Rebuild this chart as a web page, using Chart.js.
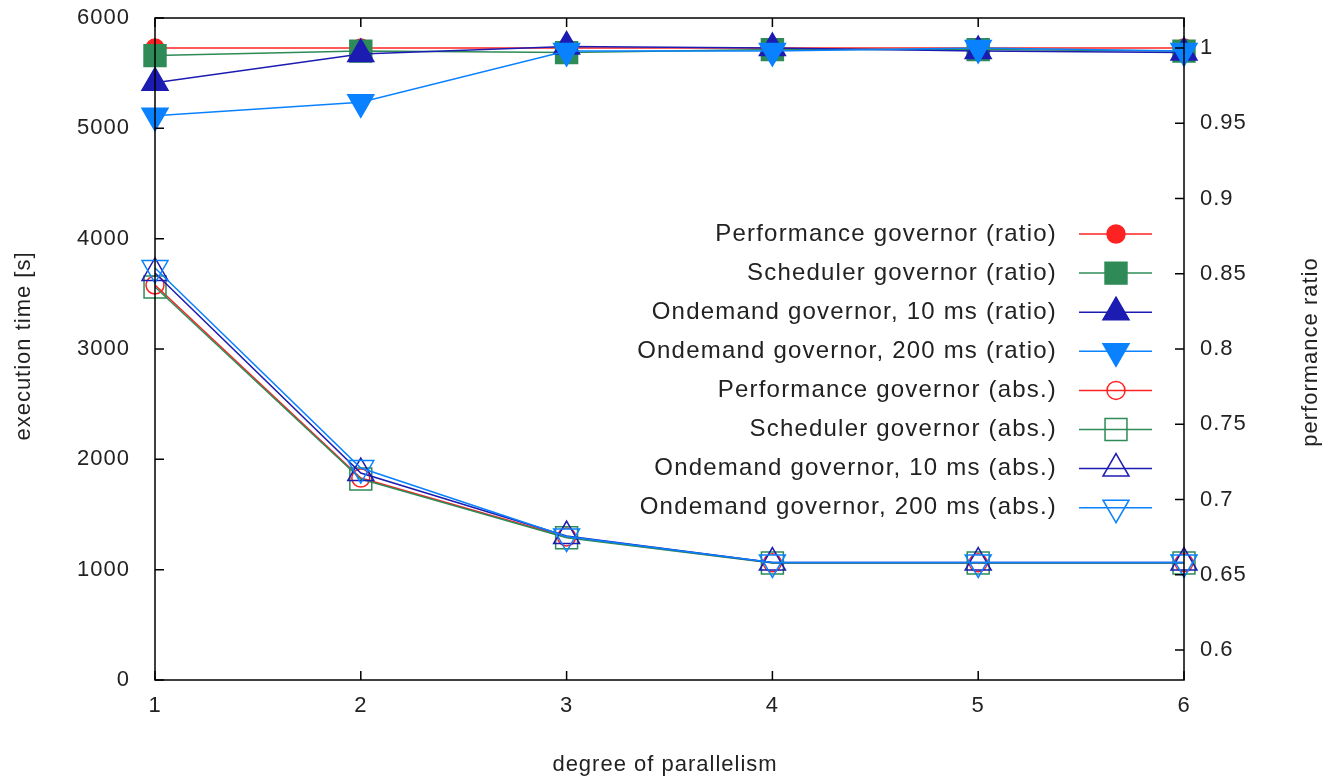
<!DOCTYPE html>
<html>
<head>
<meta charset="utf-8">
<script src="https://cdn.jsdelivr.net/npm/chart.js@4"></script>
<style>
  html, body { margin: 0; padding: 0; background: #fff; }
  canvas { display: block; }
</style>
</head>
<body>
<canvas id="chart" width="1325" height="779"></canvas>
<script>
// degree of parallelism on the x axis
const parallelism = ['1', '2', '3', '4', '5', '6'];

// performance ratio (right axis)
const perfRatio   = [1.000, 1.000, 1.000, 1.000, 1.000, 1.000];
const schedRatio  = [0.995, 0.998, 0.997, 0.999, 0.999, 0.998];
const od10Ratio   = [0.977, 0.996, 1.001, 1.000, 0.998, 0.997];
const od200Ratio  = [0.955, 0.964, 0.998, 0.998, 1.000, 0.998];

// execution time in seconds (left axis)
const perfAbs  = [3580, 1830, 1296, 1062, 1062, 1062];
const schedAbs = [3562, 1822, 1290, 1060, 1060, 1060];
const od10Abs  = [3689, 1876, 1305, 1064, 1064, 1064];
const od200Abs = [3734, 1921, 1300, 1066, 1066, 1066];

const leftTicks  = [0, 1000, 2000, 3000, 4000, 5000, 6000];
const rightTicks = [0.6, 0.65, 0.7, 0.75, 0.8, 0.85, 0.9, 0.95, 1];

const RED = '#ff2222', GREEN = '#2e8b57', DBLUE = '#1c1cb2', LBLUE = '#0a82ff';
const FONT = "'Liberation Sans', Arial, sans-serif";
const TEXT = '#222';

function series(label, data, color, style, filled, axis) {
  let radius = 9, rotation = 0;
  if (style === 'rect') radius = 15.5;
  if (style === 'triangle' || style === 'down') radius = 15;
  if (style === 'down') { style = 'triangle'; rotation = 180; }
  return {
    label, data, yAxisID: axis,
    borderColor: color, borderWidth: 1.5,
    pointStyle: style, pointRotation: rotation, pointRadius: radius,
    pointBorderWidth: 1.5, pointBorderColor: color,
    pointBackgroundColor: filled ? color : 'rgba(0,0,0,0)',
    backgroundColor: filled ? color : 'rgba(0,0,0,0)',
    tension: 0, fill: false
  };
}

const datasets = [
  series('Performance governor (ratio)', perfRatio, RED, 'circle', true, 'y2'),
  series('Scheduler governor (ratio)', schedRatio, GREEN, 'rect', true, 'y2'),
  series('Ondemand governor, 10 ms (ratio)', od10Ratio, DBLUE, 'triangle', true, 'y2'),
  series('Ondemand governor, 200 ms (ratio)', od200Ratio, LBLUE, 'down', true, 'y2'),
  series('Performance governor (abs.)', perfAbs, RED, 'circle', false, 'y'),
  series('Scheduler governor (abs.)', schedAbs, GREEN, 'rect', false, 'y'),
  series('Ondemand governor, 10 ms (abs.)', od10Abs, DBLUE, 'triangle', false, 'y'),
  series('Ondemand governor, 200 ms (abs.)', od200Abs, LBLUE, 'down', false, 'y')
];
datasets.forEach((d, i) => { d.order = datasets.length - i; });

// gnuplot style frame, inward ticks, titles and legend
const gnuplotLook = {
  id: 'gnuplotLook',
  beforeDraw(chart) {
    chart.ctx.letterSpacing = '1px';
  },
  afterDatasetsDraw(chart) {
    const ctx = chart.ctx;
    const a = chart.chartArea;
    const tl = 9;
    ctx.save();
    ctx.strokeStyle = '#000';
    ctx.lineWidth = 1.5;
    ctx.strokeRect(a.left, a.top, a.right - a.left, a.bottom - a.top);
    ctx.beginPath();
    const xs = chart.scales.x;
    xs.ticks.forEach((t, i) => {
      const px = xs.getPixelForTick(i);
      ctx.moveTo(px, a.bottom); ctx.lineTo(px, a.bottom - tl);
      ctx.moveTo(px, a.top); ctx.lineTo(px, a.top + tl);
    });
    const ys = chart.scales.y;
    ys.ticks.forEach(t => {
      const py = ys.getPixelForValue(t.value);
      ctx.moveTo(a.left, py); ctx.lineTo(a.left + tl, py);
    });
    const y2 = chart.scales.y2;
    y2.ticks.forEach(t => {
      const py = y2.getPixelForValue(t.value);
      ctx.moveTo(a.right, py); ctx.lineTo(a.right - tl, py);
    });
    ctx.stroke();
    ctx.restore();
  },
  afterDraw(chart) {
    const ctx = chart.ctx;
    ctx.save();
    ctx.letterSpacing = '1px';
    ctx.fillStyle = TEXT;
    ctx.textAlign = 'center';
    ctx.textBaseline = 'middle';
    ctx.font = '22px ' + FONT;
    ctx.fillText('degree of parallelism', 665, 765);

    ctx.save();
    ctx.translate(24, 346);
    ctx.rotate(-Math.PI / 2);
    ctx.fillText('execution time [s]', 0, 0);
    ctx.restore();

    ctx.save();
    ctx.translate(1311, 352);
    ctx.rotate(-Math.PI / 2);
    ctx.fillText('performance ratio', 0, 0);
    ctx.restore();

    // legend
    ctx.font = '24px ' + FONT;
    ctx.letterSpacing = '1.2px';
    ctx.textAlign = 'right';
    chart.data.datasets.forEach((d, i) => {
      const y = 234 + 39.1 * i;
      ctx.fillStyle = TEXT;
      ctx.fillText(d.label, 1057, y);
      ctx.strokeStyle = d.borderColor;
      ctx.lineWidth = 1.5;
      ctx.beginPath();
      ctx.moveTo(1079, y); ctx.lineTo(1152, y);
      ctx.stroke();
      ctx.fillStyle = d.pointBackgroundColor;
      Chart.helpers.drawPoint(ctx, {
        pointStyle: d.pointStyle, rotation: d.pointRotation,
        radius: d.pointRadius, borderWidth: 1.5
      }, 1116, y);
    });
    ctx.restore();
  }
};

function noVerticalPad(s) {
  s.paddingTop = 0;
  s.paddingBottom = 0;
}

new Chart(document.getElementById('chart'), {
  type: 'line',
  data: { labels: parallelism, datasets },
  plugins: [gnuplotLook],
  options: {
    responsive: false,
    devicePixelRatio: 1,
    animation: false,
    layout: { autoPadding: false, padding: { top: 18, left: 0, right: 0, bottom: 0 } },
    plugins: { legend: { display: false }, tooltip: { enabled: false } },
    elements: { line: { borderJoinStyle: 'miter' } },
    scales: {
      x: {
        type: 'category',
        offset: false,
        grid: { display: false, drawTicks: false },
        border: { display: false },
        ticks: { color: TEXT, font: { family: FONT, size: 22 }, padding: 13, maxRotation: 0 },
        afterFit(s) { s.height = 779 - 680; s.paddingLeft = 0; s.paddingRight = 0; }
      },
      y: {
        position: 'left',
        min: 0, max: 6000,
        grid: { display: false, drawTicks: false },
        border: { display: false },
        afterBuildTicks(s) { s.ticks = leftTicks.map(v => ({ value: v })); },
        ticks: {
          color: TEXT, font: { family: FONT, size: 22 }, padding: 25,
          callback: v => String(v)
        },
        afterFit(s) { s.width = 155; noVerticalPad(s); }
      },
      y2: {
        position: 'right',
        min: 0.58, max: 1.02,
        grid: { display: false, drawTicks: false },
        border: { display: false },
        afterBuildTicks(s) { s.ticks = rightTicks.map(v => ({ value: v })); },
        ticks: {
          color: TEXT, font: { family: FONT, size: 22 }, padding: 16,
          callback: v => String(+v.toFixed(2))
        },
        afterFit(s) { s.width = 1325 - 1184; noVerticalPad(s); }
      }
    }
  }
});
</script>
</body>
</html>
